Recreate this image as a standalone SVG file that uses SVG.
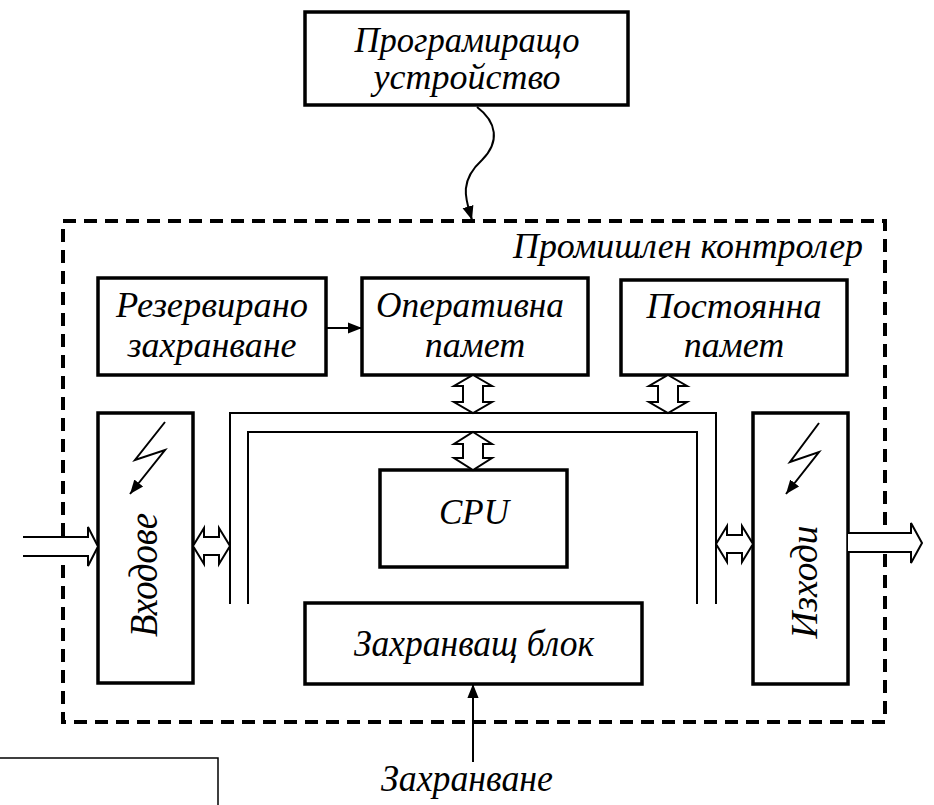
<svg xmlns="http://www.w3.org/2000/svg" width="934" height="805" viewBox="0 0 934 805">
<style>
.box{fill:#fff;stroke:#000;stroke-width:3.5}
.t{font-family:"Liberation Serif","Times New Roman","DejaVu Serif",serif;font-style:italic;font-size:36px;fill:#000;text-anchor:middle}
.bus{fill:none;stroke:#000;stroke-width:2}
.dbl{fill:#fff;stroke:#000;stroke-width:2;stroke-linejoin:miter}
.ln{fill:none;stroke:#000;stroke-width:2}
</style>
<defs>
<marker id="ah2" viewBox="0 0 10 10" refX="10" refY="5" markerWidth="14" markerHeight="14" orient="auto" markerUnits="userSpaceOnUse">
<path d="M0,1 L10,5 L0,9 z" fill="#000"/>
</marker>
</defs>
<rect width="934" height="805" fill="#fff"/>

<g id="controller">
<rect x="63" y="221" width="822" height="501" fill="none" stroke="#000" stroke-width="4" stroke-dasharray="13 8"/>
<text class="t" x="688" y="258" textLength="350" lengthAdjust="spacingAndGlyphs">Промишлен контролер</text>
</g>

<g id="programmer">
<rect class="box" x="305" y="12" width="323" height="93"/>
<text class="t" x="467" y="52" textLength="225" lengthAdjust="spacingAndGlyphs">Програмиращо</text>
<text class="t" x="467" y="89">устройство</text>
</g>

<g id="backup">
<rect class="box" x="98" y="278" width="228" height="97"/>
<text class="t" x="212" y="317" textLength="192" lengthAdjust="spacingAndGlyphs">Резервирано</text>
<text class="t" x="212" y="357">захранване</text>
</g>

<g id="ram">
<rect class="box" x="362" y="278" width="226" height="97"/>
<text class="t" x="470" y="317" textLength="188" lengthAdjust="spacingAndGlyphs">Оперативна</text>
<text class="t" x="475" y="357">памет</text>
</g>

<g id="rom">
<rect class="box" x="621" y="280" width="226" height="95"/>
<text class="t" x="734" y="318" textLength="175" lengthAdjust="spacingAndGlyphs">Постоянна</text>
<text class="t" x="734" y="357">памет</text>
</g>

<g id="inputs">
<rect class="box" x="98" y="413" width="95" height="270"/>
<text class="t" transform="translate(157,575) rotate(-90)" style="font-size:39px" textLength="124" lengthAdjust="spacingAndGlyphs">Входове</text>
<path class="ln" d="M165,422 L135,460 L165,450 L130,494" marker-end="url(#ah2)"/>
</g>

<g id="outputs">
<rect class="box" x="753" y="413" width="95" height="271"/>
<text class="t" transform="translate(817,582) rotate(-90)" style="font-size:38px" textLength="113" lengthAdjust="spacingAndGlyphs">Изходи</text>
<path class="ln" d="M819,423 L790,462 L819,452 L786,494" marker-end="url(#ah2)"/>
</g>

<g id="cpu">
<rect class="box" x="380" y="470" width="187" height="97"/>
<text class="t" x="474" y="524" style="font-size:35px">CPU</text>
</g>

<g id="psu">
<rect class="box" x="305" y="603" width="337" height="81"/>
<text class="t" x="474" y="656" style="font-size:38px" textLength="240" lengthAdjust="spacingAndGlyphs">Захранващ блок</text>
</g>

<g id="power-label">
<text class="t" x="467" y="791" style="font-size:37px" textLength="172" lengthAdjust="spacingAndGlyphs">Захранване</text>
</g>

<g id="stray-frame">
<path d="M0,758 H218 V805" fill="none" stroke="#000" stroke-width="1.5"/>
</g>

<g id="connectors">
<path class="bus" d="M230,604 V413 H716 V604"/>
<path class="bus" d="M248,604 V432 H697 V604"/>
<path class="ln" d="M477,107 C497,122 500,142 482,160 C458,182 466,200 472,220" marker-end="url(#ah2)"/>
<line class="ln" x1="326" y1="328" x2="362" y2="328" marker-end="url(#ah2)"/>
<line class="ln" x1="473" y1="762" x2="473" y2="684" marker-end="url(#ah2)"/>
<polygon class="dbl" points="473,375 492,386 483,386 483,402 492,402 473,413 454,402 463,402 463,386 454,386"/>
<polygon class="dbl" points="668,375 687,386 678,386 678,402 687,402 668,413 649,402 658,402 658,386 649,386"/>
<polygon class="dbl" points="473,432 492,444 483,444 483,458 492,458 473,470 454,458 463,458 463,444 454,444"/>
<polygon class="dbl" points="193,546 204,528 204,537 219,537 219,528 230,546 219,564 219,555 204,555 204,564"/>
<polygon class="dbl" points="716,544 727,526 727,535 742,535 742,526 753,544 742,562 742,553 727,553 727,562"/>
<path class="dbl" d="M23,537 H88 V527 L98,546.5 L88,566 V556 H23"/>
<path class="dbl" d="M848,533 H911 V523 L922,543 L911,563 V552 H848"/>
</g>
</svg>
